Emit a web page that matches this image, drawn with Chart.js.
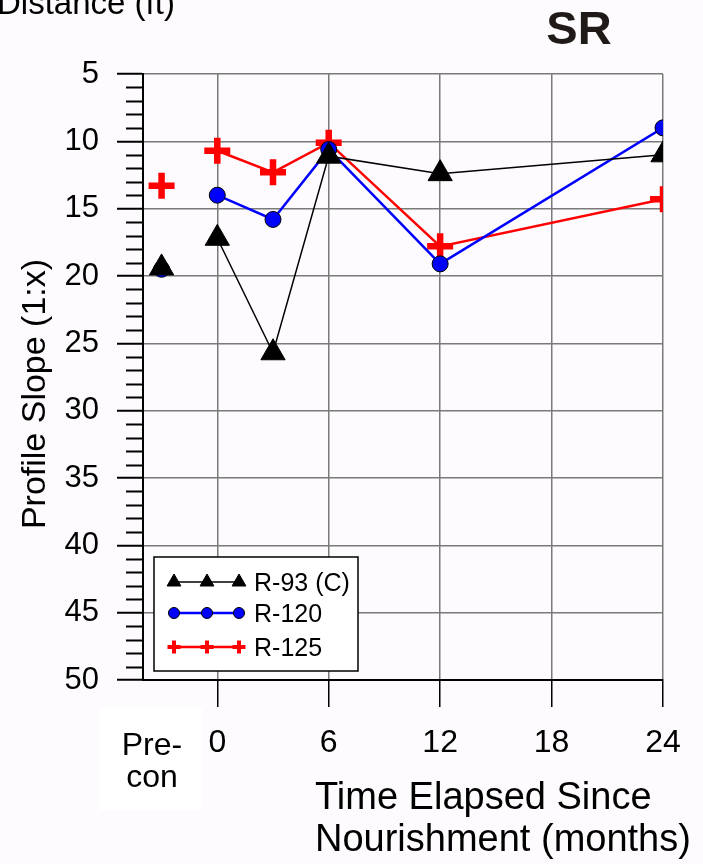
<!DOCTYPE html>
<html>
<head>
<meta charset="utf-8">
<script src="https://cdn.jsdelivr.net/npm/chart.js@4.4.0/dist/chart.umd.min.js"></script>
<style>
  html, body { margin: 0; padding: 0; background: #fdfbfd; }
  #wrap { width: 703px; height: 864px; position: relative; }
</style>
</head>
<body>
<div id="wrap"><canvas id="slopeChart"></canvas></div>
<script>
// months since nourishment (-3 stands for the pre-construction survey)
const months = [-3, 0, 3, 6, 12, 24];
const r93 = [19.4, 17.2, 25.7, 11.1, 12.4, 11.0];
const r120 = [19.5, 14.0, 15.8, 10.6, 19.1, 9.0];
const r125 = [13.3, 10.7, 12.3, 10.1, 17.8, 14.3];

const xTickValues = [0, 6, 12, 18, 24];
const preconLabel = ['Pre-', 'con'];
const yTitle = 'Profile Slope (1:x)';
const xTitle = ['Time Elapsed Since', 'Nourishment (months)'];

const FONT = "'Liberation Sans', Arial, sans-serif";

function toPoints(values) {
  return months.map((m, i) => ({ x: m, y: values[i] }));
}

// no line between the pre-con survey and the first post-fill survey
const skipPrecon = {
  borderColor: (ctx) => (ctx.p0DataIndex === 0 ? 'rgba(0,0,0,0)' : undefined),
};

const legendMarks = [
  { radius: 8, pointWidth: 1 },
  { radius: 5.5, pointWidth: 1 },
  { radius: 6.5, pointWidth: 4 },
];

const decorations = {
  id: 'decorations',
  beforeDraw(chart) {
    const { ctx } = chart;
    ctx.save();
    ctx.fillStyle = '#ffffff';
    ctx.fillRect(100, 708, 102, 102);
    ctx.restore();
  },
  afterDraw(chart) {
    const { ctx, chartArea, scales } = chart;
    const y = scales.y;
    ctx.save();

    // minor ticks on the slope axis
    ctx.strokeStyle = '#000';
    ctx.lineWidth = 2;
    for (let v = y.min; v <= y.max; v += 1) {
      if (v % 5 === 0) continue;
      const py = Math.round(y.getPixelForValue(v)) + 0.5;
      ctx.beginPath();
      ctx.moveTo(chartArea.left - 17, py);
      ctx.lineTo(chartArea.left, py);
      ctx.stroke();
    }

    ctx.fillStyle = '#000';
    ctx.textBaseline = 'alphabetic';

    // pre-con label
    ctx.font = `32px ${FONT}`;
    ctx.textAlign = 'center';
    ctx.fillText(preconLabel[0], 152, 755);
    ctx.fillText(preconLabel[1], 152, 787);

    // axis titles
    ctx.font = `38px ${FONT}`;
    ctx.textAlign = 'left';
    ctx.fillText(xTitle[0], 315, 809);
    ctx.fillText(xTitle[1], 315, 851);

    ctx.save();
    ctx.translate(45, 394);
    ctx.rotate(-Math.PI / 2);
    ctx.font = `34px ${FONT}`;
    ctx.textAlign = 'center';
    ctx.fillText(yTitle, 0, 0);
    ctx.restore();

    // leftover heading from the panel above, cut by the frame
    ctx.font = `33px ${FONT}`;
    ctx.textAlign = 'left';
    ctx.fillText('Distance (ft)', -3, 14);

    ctx.font = `bold 47px ${FONT}`;
    ctx.textAlign = 'center';
    ctx.fillStyle = '#1f1a17';
    ctx.fillText('SR', 579, 44);

    // legend
    ctx.fillStyle = '#ffffff';
    ctx.fillRect(154, 557, 204, 114);
    ctx.strokeStyle = '#000';
    ctx.lineWidth = 1.5;
    ctx.strokeRect(154, 557, 204, 114);

    const rows = [582, 613, 647];
    const xs = [174, 207, 239];
    chart.data.datasets.forEach((ds, i) => {
      const ry = rows[i];
      ctx.strokeStyle = ds.borderColor;
      ctx.lineWidth = ds.borderWidth;
      ctx.beginPath();
      ctx.moveTo(xs[0], ry);
      ctx.lineTo(xs[2], ry);
      ctx.stroke();
      xs.forEach((mx) => {
        ctx.fillStyle = ds.pointBackgroundColor;
        ctx.strokeStyle = ds.pointBorderColor;
        ctx.lineWidth = legendMarks[i].pointWidth;
        Chart.helpers.drawPoint(ctx, {
          pointStyle: ds.pointStyle,
          radius: legendMarks[i].radius,
          rotation: 0,
          borderWidth: legendMarks[i].pointWidth,
        }, mx, ry);
      });
      ctx.fillStyle = '#000';
      ctx.font = `25px ${FONT}`;
      ctx.textAlign = 'left';
      ctx.fillText(ds.label, 254, ry + 9);
    });

    ctx.restore();
  },
};

new Chart(document.getElementById('slopeChart'), {
  type: 'line',
  data: {
    datasets: [
      {
        label: 'R-93 (C)',
        data: toPoints(r93),
        borderColor: '#000000',
        borderWidth: 1.5,
        pointStyle: 'triangle',
        pointRadius: 14,
        pointBackgroundColor: '#000000',
        pointBorderColor: '#000000',
        pointBorderWidth: 1,
        segment: skipPrecon,
      },
      {
        label: 'R-120',
        data: toPoints(r120),
        borderColor: '#0000ff',
        borderWidth: 2.5,
        pointStyle: 'circle',
        pointRadius: 8,
        pointBackgroundColor: '#0000ff',
        pointBorderColor: '#000000',
        pointBorderWidth: 1,
        segment: skipPrecon,
      },
      {
        label: 'R-125',
        data: toPoints(r125),
        borderColor: '#ff0000',
        borderWidth: 2.5,
        pointStyle: 'cross',
        pointRadius: 13,
        pointBackgroundColor: '#ff0000',
        pointBorderColor: '#ff0000',
        pointBorderWidth: 6.5,
        segment: skipPrecon,
      },
    ],
  },
  options: {
    responsive: true,
    maintainAspectRatio: false,
    animation: false,
    layout: { padding: { top: 74, right: 40, left: 0, bottom: 0 } },
    plugins: {
      legend: { display: false },
      tooltip: { enabled: false },
    },
    scales: {
      x: {
        type: 'linear',
        min: -4,
        max: 24,
        afterFit: (scale) => { scale.height = 184; },
        afterBuildTicks: (scale) => {
          scale.ticks = xTickValues.map((v) => ({ value: v }));
        },
        grid: {
          color: '#7a7a7a',
          lineWidth: 1.5,
          tickColor: '#000000',
          tickWidth: 1.5,
          tickLength: 27,
        },
        border: { color: '#000000', width: 2 },
        ticks: {
          color: '#000000',
          padding: 17,
          maxRotation: 0,
          font: { family: FONT, size: 32 },
        },
      },
      y: {
        min: 5,
        max: 50,
        reverse: true,
        afterFit: (scale) => { scale.width = 143; },
        grid: {
          color: '#7a7a7a',
          lineWidth: 1.5,
          tickColor: '#000000',
          tickWidth: 2,
          tickLength: 26,
        },
        border: { color: '#000000', width: 2 },
        ticks: {
          stepSize: 5,
          color: '#000000',
          padding: 18,
          font: { family: FONT, size: 31 },
        },
      },
    },
  },
  plugins: [decorations],
});
</script>
</body>
</html>
